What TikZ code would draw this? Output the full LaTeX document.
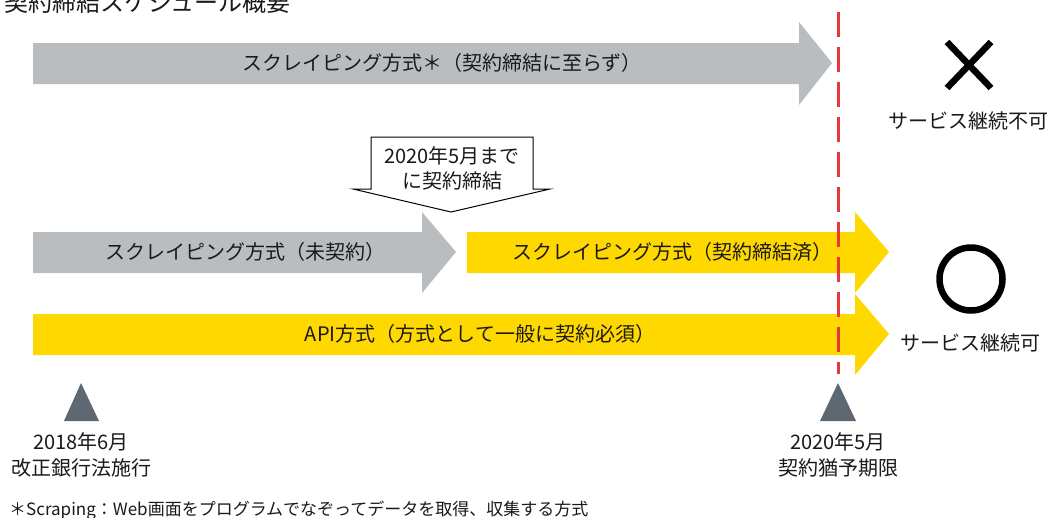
\documentclass[tikz,border=0pt]{standalone}
\usepackage{fontspec}
\usetikzlibrary{calc}
\setmainfont{Noto Sans CJK JP}
\definecolor{argrey}{HTML}{B9BDBF}
\definecolor{aryellow}{HTML}{FFD800}
\definecolor{dashred}{HTML}{E8383D}
\definecolor{trigrey}{HTML}{5E6873}
\definecolor{txt}{HTML}{1A1A1A}
\begin{document}
\begin{tikzpicture}[x=1pt,y=-1pt,
  lbl/.style={inner sep=0pt, text=txt, font=\fontsize{20}{26}\selectfont},
  foot/.style={inner sep=0pt, text=txt, font=\fontsize{17}{20}\selectfont, anchor=west},
  tri/.style={fill=trigrey, draw=none},
  symline/.style={line width=6.5pt, draw=black}]
\useasboundingbox (0,0) rectangle (1051,517);
\fill[white] (0,0) rectangle (1051,517);

% title
\node[lbl, anchor=west, font=\fontsize{24}{28}\selectfont] (title) at (4,2) {契約締結スケジュール概要};

% arrow 1 grey
\fill[argrey] (33,43) -- (799,43) -- (799,22) -- (832,63) -- (799,105) -- (799,84) -- (33,84) -- cycle;
\node[lbl] (a1) at (442,63) {スクレイピング方式＊（契約締結に至らず）};

% arrow 2 grey
\fill[argrey] (33,232) -- (422,232) -- (422,212) -- (456,252) -- (422,293) -- (422,273) -- (33,273) -- cycle;
\node[lbl] (a2) at (245,252) {スクレイピング方式（未契約）};

% arrow 3 yellow
\fill[aryellow] (467,232) -- (855,232) -- (855,212) -- (889,252) -- (855,293) -- (855,273) -- (467,273) -- cycle;
\node[lbl] (a3) at (672,252) {スクレイピング方式（契約締結済）};

% arrow 4 yellow
\fill[aryellow] (33,314) -- (855,314) -- (855,294) -- (889,334) -- (855,375) -- (855,355) -- (33,355) -- cycle;
\node[lbl] (a4) at (480,334) {API方式（方式として一般に契約必須）};

% red dashed line
\coordinate (rtop) at (838,12);
\coordinate (rbot) at (838,374);
\draw[dashred, line width=3pt, dash pattern=on 25pt off 10pt] (rtop) -- (rbot);

% callout
\draw[black, line width=1pt, fill=white] (371,137) -- (533,137) -- (533,189) -- (550,189) -- (451,212) -- (353,189) -- (371,189) -- cycle;
\node[lbl, align=center, font=\fontsize{20}{25}\selectfont] (call) at (452,168) {2020年5月まで\\に契約締結};

% cross
\coordinate (xc) at (969,65);
\draw[symline] ($(xc)+(-22,-23)$) -- ($(xc)+(22,23)$);
\draw[symline] ($(xc)+(22,-23)$) -- ($(xc)+(-22,23)$);
\node[lbl] (ng) at (968,121) {サービス継続不可};

% circle
\draw[symline] (971,279) circle (31.5);
\node[lbl] (ok) at (970,343) {サービス継続可};

% triangles
\fill[tri] (64,421) -- (81,383) -- (99,421) -- cycle;
\fill[tri] (820,421) -- (838,383) -- (856,421) -- cycle;
\node[lbl] (d1) at (81,442) {2018年6月};
\node[lbl] (e1) at (81,468) {改正銀行法施行};
\node[lbl] (d2) at (838,442) {2020年5月};
\node[lbl] (e2) at (838,468) {契約猶予期限};

% footnote
\node[foot] (fn) at (9,510) {＊Scraping：Web画面をプログラムでなぞってデータを取得、収集する方式};
\end{tikzpicture}
\end{document}
